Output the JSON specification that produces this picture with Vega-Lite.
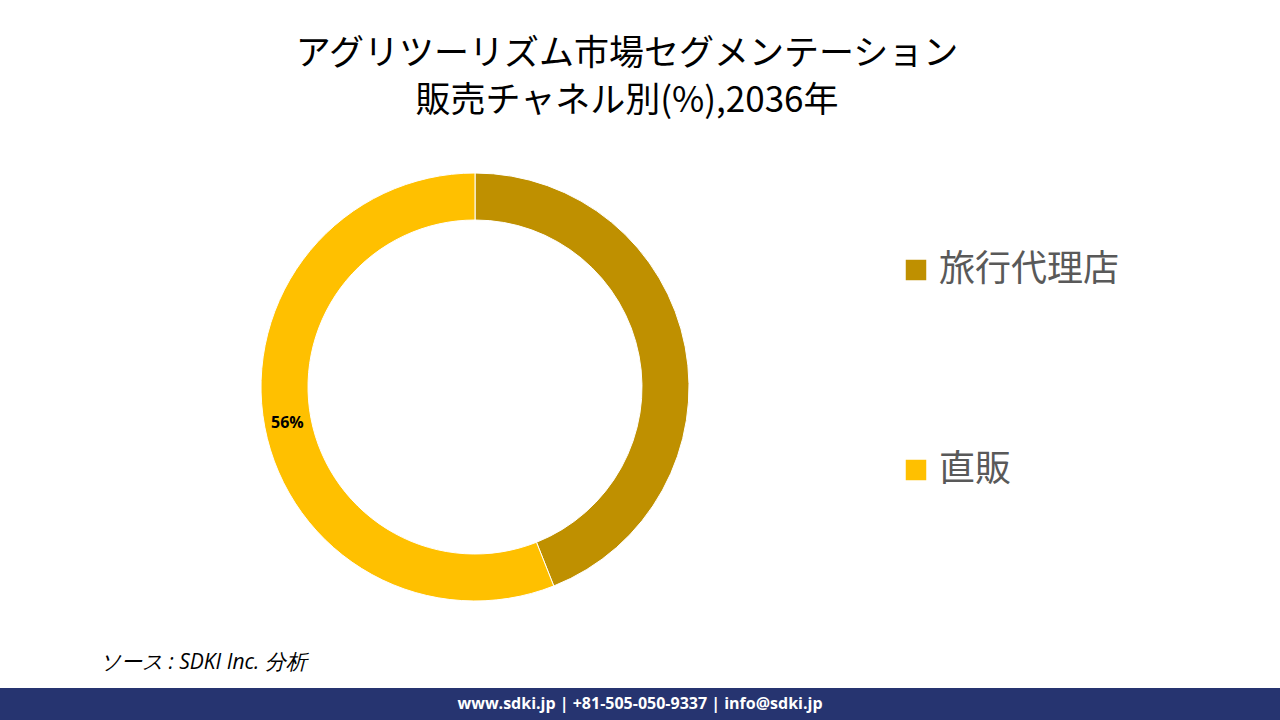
{
  "$schema": "https://vega.github.io/schema/vega-lite/v6.json",
  "autosize": "none",
  "width": 950,
  "height": 534,
  "padding": {"left": 0, "top": 120, "right": 330, "bottom": 66},
  "background": "#ffffff",
  "config": {"view": {"stroke": null}},
  "title": {
    "text": ["アグリツーリズム市場セグメンテーション", "販売チャネル別(%),2036年"],
    "font": "Noto Sans CJK JP",
    "fontSize": 35,
    "fontWeight": "normal",
    "color": "#000000",
    "lineHeight": 47,
    "anchor": "middle",
    "frame": "group",
    "dx": 152,
    "offset": 1
  },
  "data": {
    "values": [
      {"channel": "旅行代理店", "share": 0.44},
      {"channel": "直販", "share": 0.56}
    ]
  },
  "layer": [
    {
      "mark": {"type": "arc", "radius": 214, "innerRadius": 167, "stroke": "#ffffff", "strokeWidth": 1},
      "encoding": {
        "theta": {"field": "share", "type": "quantitative", "stack": true},
        "color": {
          "field": "channel",
          "type": "nominal",
          "scale": {"domain": ["旅行代理店", "直販"], "range": ["#BF9000", "#FFC000"]},
          "legend": {
            "orient": "none",
            "legendX": 898,
            "legendY": 132,
            "title": null,
            "symbolType": "square",
            "symbolSize": 420,
            "symbolStrokeWidth": 0,
            "labelFont": "Noto Sans CJK JP",
            "labelFontSize": 36,
            "labelColor": "#595959",
            "labelOffset": 5,
            "rowPadding": 164,
            "labelLimit": 400
          }
        },
        "order": {"field": "channel", "sort": "ascending"}
      }
    },
    {
      "mark": {"type": "text", "radius": 191, "font": "Open Sans", "fontSize": 16, "fontWeight": "bold", "color": "#000000"},
      "encoding": {
        "theta": {"field": "share", "type": "quantitative", "stack": true},
        "order": {"field": "channel", "sort": "ascending"},
        "text": {
          "condition": {"test": "datum.share > 0.5", "field": "share", "type": "quantitative", "format": ".0%"},
          "value": ""
        }
      }
    },
    {
      "data": {"values": [{"note": "ソース : SDKI Inc. 分析"}]},
      "mark": {"type": "text", "align": "left", "baseline": "middle", "font": "Open Sans", "fontStyle": "italic", "fontSize": 21, "color": "#000000"},
      "encoding": {
        "text": {"field": "note"},
        "x": {"value": 100},
        "y": {"value": 543}
      }
    },
    {
      "data": {"values": [{"footer": "www.sdki.jp | +81-505-050-9337 | info@sdki.jp"}]},
      "mark": {"type": "rect", "color": "#263470"},
      "encoding": {
        "x": {"value": 0},
        "x2": {"value": 1280},
        "y": {"value": 568},
        "y2": {"value": 600}
      }
    },
    {
      "data": {"values": [{"footer": "www.sdki.jp | +81-505-050-9337 | info@sdki.jp"}]},
      "mark": {"type": "text", "align": "center", "baseline": "middle", "font": "Open Sans", "fontWeight": "bold", "fontSize": 16, "color": "#ffffff"},
      "encoding": {
        "text": {"field": "footer"},
        "x": {"value": 640},
        "y": {"value": 584}
      }
    }
  ]
}
